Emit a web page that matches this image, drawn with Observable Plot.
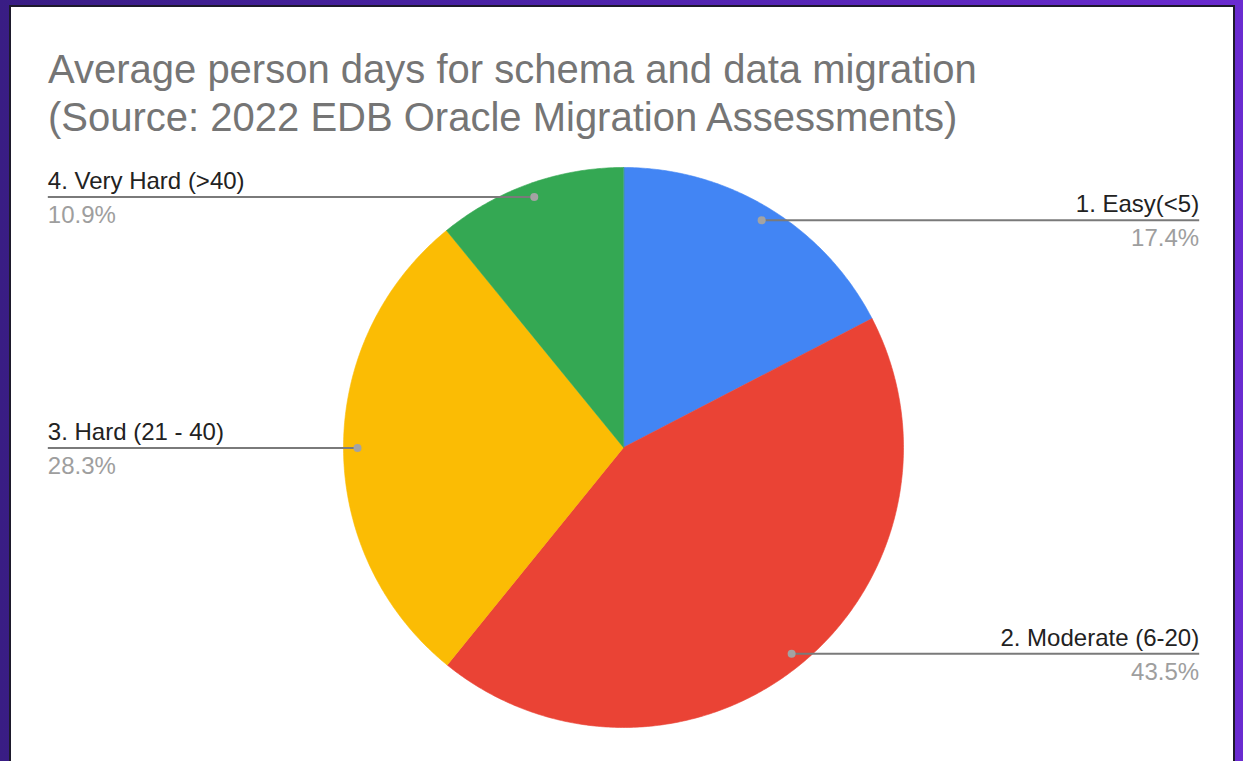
<!DOCTYPE html>
<html>
<head>
<meta charset="utf-8">
<script src="https://cdn.jsdelivr.net/npm/d3@7"></script>
<script src="https://cdn.jsdelivr.net/npm/@observablehq/plot@0.6"></script>
<style>
  html, body { margin: 0; padding: 0; }
  body {
    width: 1243px; height: 761px; overflow: hidden; position: relative;
    background: linear-gradient(90deg, #391d84 0%, #4a22a6 40%, #6a2bd0 100%);
    font-family: "Liberation Sans", Arial, sans-serif;
  }
  #card {
    position: absolute; left: 9px; top: 5px; width: 1226px; height: 800px;
    background: #fff; border: 2px solid #1d1a2c; box-sizing: border-box;
  }
  #chart { position: absolute; left: 0; top: 0; }
  #title {
    position: absolute; left: 48px; top: 45px;
    font-size: 40px; line-height: 48px; color: #757575; white-space: nowrap;
  }
</style>
</head>
<body>
<div id="card"></div>
<div id="chart"></div>
<div id="title">Average person days for schema and data migration<br>(Source: 2022 EDB Oracle Migration Assessments)</div>
<script>
// Data
const categories = ["1. Easy(<5)", "2. Moderate (6-20)", "3. Hard (21 - 40)", "4. Very Hard (>40)"];
const shares = [17.4, 43.5, 28.3, 10.9];
const percentLabels = ["17.4%", "43.5%", "28.3%", "10.9%"];
const colors = ["#4285f4", "#ea4335", "#fbbc04", "#34a853"];

// Pie geometry from the values (angles clockwise from 12 o'clock)
const pie = d3.pie().sort(null).value(d => d.value);
const arcs = pie(categories.map((c, i) => ({label: c, value: shares[i], pct: percentLabels[i]})));

const slicePts = [];
for (const a of arcs) {
  slicePts.push({label: a.data.label, x: 0, y: 0});
  const n = Math.max(2, Math.ceil((a.endAngle - a.startAngle) / 0.01));
  for (let k = 0; k <= n; k++) {
    const t = a.startAngle + (a.endAngle - a.startAngle) * k / n;
    slicePts.push({label: a.data.label, x: Math.sin(t), y: Math.cos(t)});
  }
}

const inner = 0.95;   // leader dot radius (fraction of pie radius)
const edge = 2.056;   // label column offset (in pie radii)
const leaders = arcs.map(a => {
  const m = (a.startAngle + a.endAngle) / 2;
  const x = inner * Math.sin(m), y = inner * Math.cos(m);
  const right = x > 0;
  return {label: a.data.label, pct: a.data.pct, x, y, x2: right ? edge : -edge, right};
});
const rightSide = leaders.filter(d => d.right);
const leftSide = leaders.filter(d => !d.right);

const font = "Liberation Sans, Arial, sans-serif";
const labelMarks = (data, anchor) => [
  Plot.text(data, {x: "x2", y: "y", text: "label", textAnchor: anchor, lineAnchor: "bottom", dy: -8, fontSize: 24, fill: "#222222"}),
  Plot.text(data, {x: "x2", y: "y", text: "pct", textAnchor: anchor, lineAnchor: "bottom", dy: 26, fontSize: 24, fill: "#9e9e9e"})
];

const chart = Plot.plot({
  width: 1243,
  height: 761,
  margin: 0,
  style: {background: "transparent", fontFamily: font, overflow: "visible"},
  x: {domain: [-1, 1], range: [343, 903], axis: null},
  y: {domain: [-1, 1], range: [727, 167], axis: null},
  color: {domain: categories, range: colors},
  marks: [
    Plot.line(slicePts, {x: "x", y: "y", z: "label", fill: "label", stroke: "label", strokeWidth: 0.6, curve: "linear-closed"}),
    Plot.link(leaders, {x1: "x", y1: "y", x2: "x2", y2: "y", stroke: "#7a7a7a", strokeWidth: 2}),
    Plot.dot(leaders, {x: "x", y: "y", r: 4, fill: "#a3a3a3"}),
    ...labelMarks(rightSide, "end"),
    ...labelMarks(leftSide, "start")
  ]
});
document.getElementById("chart").appendChild(chart);
</script>
</body>
</html>
